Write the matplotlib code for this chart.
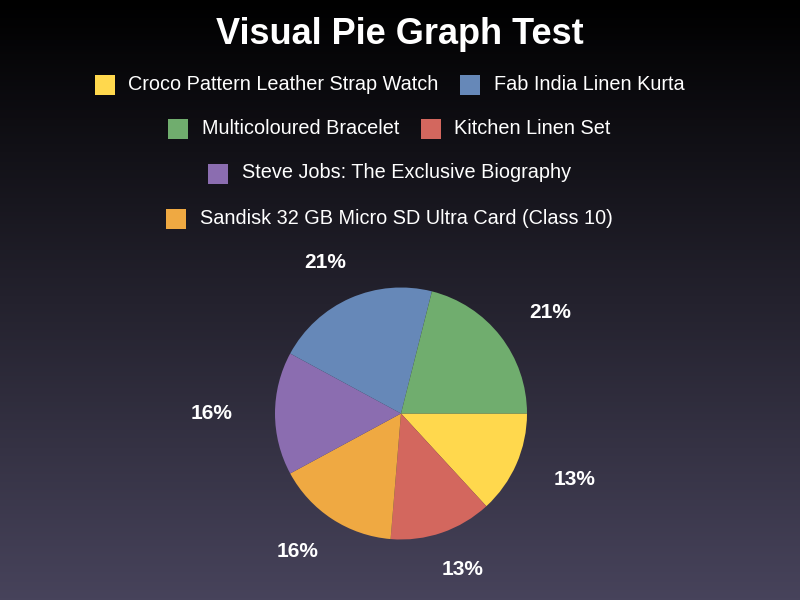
import numpy as np
import matplotlib
matplotlib.use("Agg")
import matplotlib.pyplot as plt
from matplotlib.patches import Rectangle

plt.rcParams['font.family'] = ['Liberation Sans', 'DejaVu Sans']

title = "Visual Pie Graph Test"
# legend order
legend_labels = ["Croco Pattern Leather Strap Watch", "Fab India Linen Kurta",
                 "Multicoloured Bracelet", "Kitchen Linen Set",
                 "Steve Jobs: The Exclusive Biography",
                 "Sandisk 32 GB Micro SD Ultra Card (Class 10)"]
legend_colors = ["#FFD84D", "#6688B8", "#70AD6E", "#D3675E", "#8B6DB0", "#EFA942"]
legend_rows = [[0, 1], [2, 3], [4], [5]]

# pie order (clockwise from 3 o'clock)
pie_labels = ["Croco Pattern Leather Strap Watch", "Kitchen Linen Set",
              "Sandisk 32 GB Micro SD Ultra Card (Class 10)",
              "Steve Jobs: The Exclusive Biography", "Fab India Linen Kurta",
              "Multicoloured Bracelet"]
pie_values = [5, 5, 6, 6, 8, 8]
pie_colors = ["#FFD84D", "#D3675E", "#EFA942", "#8B6DB0", "#6688B8", "#70AD6E"]

W, H = 800, 600
fig = plt.figure(figsize=(8, 6), dpi=100)

# gradient background
bg = fig.add_axes([0, 0, 1, 1], zorder=-10)
top = np.array([0, 0, 0]) / 255.0
bot = np.array([0x47, 0x43, 0x5B]) / 255.0
t = np.linspace(0, 1, 300)[:, None]
grad = top * (1 - t) + bot * t
bg.imshow(grad[:, None, :], aspect='auto', extent=[0, 1, 0, 1], origin='upper')
bg.set_axis_off()

fig.text(0.5, 1 - 34 / H, title, ha='center', va='center', color='white',
         fontsize=26, fontweight='bold')

# legend rows
fig.canvas.draw()
renderer = fig.canvas.get_renderer()
row_y = [85, 129, 174, 219]
fs = 14.3
sq_w, sq_h, gap_sq, gap_item = 20, 20, 14, 21
for ri, row in enumerate(legend_rows):
    y = row_y[ri]
    widths = []
    for idx in row:
        tt = fig.text(0, 0, legend_labels[idx], fontsize=fs)
        bb = tt.get_window_extent(renderer)
        widths.append(bb.width)
        tt.remove()
    total = sum(sq_w + gap_sq + w + gap_item for w in widths)
    x = W / 2 - total / 2
    for idx, w in zip(row, widths):
        fig.patches.append(Rectangle((x / W, 1 - (y + sq_h / 2) / H), sq_w / W, sq_h / H,
                                     transform=fig.transFigure, facecolor=legend_colors[idx],
                                     edgecolor='none'))
        fig.text((x + sq_w + gap_sq) / W, 1 - (y - 1) / H, legend_labels[idx], fontsize=fs,
                 color='white', ha='left', va='center')
        x += sq_w + gap_sq + w + gap_item

# pie
cx, cy, R = 401, 413.5, 126
lim = 1.7
aw = R * lim * 2
ax = fig.add_axes([(cx - aw / 2) / W, (H - cy - aw / 2) / H, aw / W, aw / H])
wedges, _ = ax.pie(pie_values, colors=pie_colors, startangle=0, counterclock=False,
                   radius=1.0, wedgeprops=dict(linewidth=0))
total = sum(pie_values)
lab_a, lab_b = 1.50, 1.305
for wdg, v in zip(wedges, pie_values):
    ang = np.deg2rad((wdg.theta1 + wdg.theta2) / 2)
    ax.text(lab_a * np.cos(ang), lab_b * np.sin(ang), f"{round(100 * v / total)}%",
            ha='center', va='center', color='white', fontsize=15, fontweight='bold')
ax.set_xlim(-lim, lim)
ax.set_ylim(-lim, lim)
ax.set_aspect('equal')
ax.set_axis_off()

fig.savefig("out.png", dpi=100)
